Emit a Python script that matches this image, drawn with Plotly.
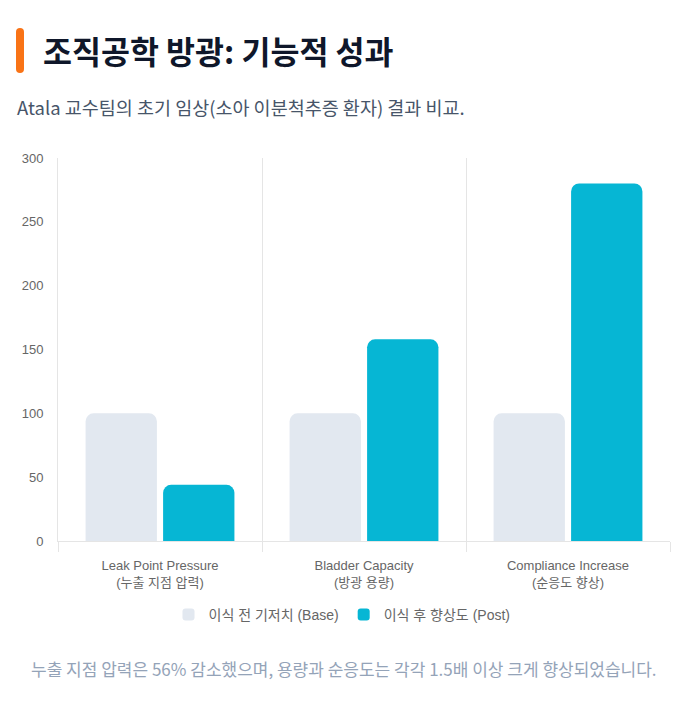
import plotly.graph_objects as go

categories = ["Leak Point Pressure<br>(누출 지점 압력)",
              "Bladder Capacity<br>(방광 용량)",
              "Compliance Increase<br>(순응도 향상)"]
base_values = [100, 100, 100]
post_values = [44, 158, 280]
series_names = ["이식 전 기저치 (Base)", "이식 후 향상도 (Post)"]
y_ticks = [0, 50, 100, 150, 200, 250, 300]

OFF = 8  # page body margin
W, H = 697 - OFF, 714 - OFF
ML = 58 - OFF
MT = 158 - OFF
MR = W - (670 - OFF)
MB = H - (541 - OFF)
PW, PH = W - ML - MR, H - MT - MB

def px_x(x):
    return (x - OFF - ML) / PW

def px_y(y):
    return (H - MB - (y - OFF)) / PH

FONT = "Noto Sans CJK KR, Liberation Sans, sans-serif"
TICKFONT = "Liberation Sans, Noto Sans CJK KR, sans-serif"

fig = go.Figure()
fig.add_trace(go.Bar(x=categories, y=base_values, name=series_names[0],
                     marker=dict(color="#e2e8f0", line=dict(width=0))))
fig.add_trace(go.Bar(x=categories, y=post_values, name=series_names[1],
                     marker=dict(color="#06b6d4", line=dict(width=0))))

fig.update_layout(
    width=W, height=H,
    margin=dict(l=ML, r=MR, t=MT, b=MB, autoexpand=False),
    paper_bgcolor="white", plot_bgcolor="white",
    font=dict(family=FONT, size=12, color="#666666"),
    barmode="group", bargap=0.24, bargroupgap=0.08, barcornerradius=8,
    showlegend=True,
    legend=dict(orientation="h", x=px_x(342), xanchor="center", y=px_y(615), yanchor="middle",
                font=dict(size=14, color="#666666", family=TICKFONT), traceorder="normal"),
    xaxis=dict(type="category", tickson="boundaries", showgrid=True, gridcolor="#e5e5e5",
               gridwidth=1, showline=True, linecolor="#e5e5e5", ticks="outside",
               ticklen=10, tickcolor="#e5e5e5", ticklabelstandoff=12,
               tickfont=dict(size=13, color="#666666", family=TICKFONT),
               fixedrange=True),
    yaxis=dict(range=[0, 300], tickvals=y_ticks, showgrid=False, zeroline=False,
               showline=True, linecolor="#e5e5e5", ticks="outside", ticklen=11,
               tickcolor="rgba(0,0,0,0)",
               tickfont=dict(size=13, color="#666666", family=TICKFONT)),
)

# title accent bar
fig.add_shape(type="line", xref="paper", yref="paper",
              x0=px_x(20), x1=px_x(20), y0=px_y(69), y1=px_y(32),
              line=dict(color="#f97316", width=8), layer="above")
fig.add_shape(type="circle", xref="paper", yref="paper",
              x0=px_x(16), x1=px_x(24), y0=px_y(73), y1=px_y(65),
              fillcolor="#f97316", line=dict(width=0), layer="above")
fig.add_shape(type="circle", xref="paper", yref="paper",
              x0=px_x(16), x1=px_x(24), y0=px_y(36), y1=px_y(28),
              fillcolor="#f97316", line=dict(width=0), layer="above")

fig.add_annotation(text="<b>조직공학 방광: 기능적 성과</b>", xref="paper", yref="paper",
                   x=px_x(41), y=px_y(50), xanchor="left", yanchor="middle",
                   showarrow=False, font=dict(size=31.5, color="#0f172a", family=FONT))
fig.add_annotation(text="Atala 교수팀의 초기 임상(소아 이분척추증 환자) 결과 비교.",
                   xref="paper", yref="paper", x=px_x(15), y=px_y(107),
                   xanchor="left", yanchor="middle", showarrow=False,
                   font=dict(size=18.5, color="#475569", family=FONT))
fig.add_annotation(text="누출 지점 압력은 56% 감소했으며, 용량과 순응도는 각각 1.5배 이상 크게 향상되었습니다.",
                   xref="paper", yref="paper", x=px_x(344), y=px_y(668),
                   xanchor="center", yanchor="middle", showarrow=False,
                   font=dict(size=17, color="#94a3b8", family=FONT))

fig.write_html("out.html")
